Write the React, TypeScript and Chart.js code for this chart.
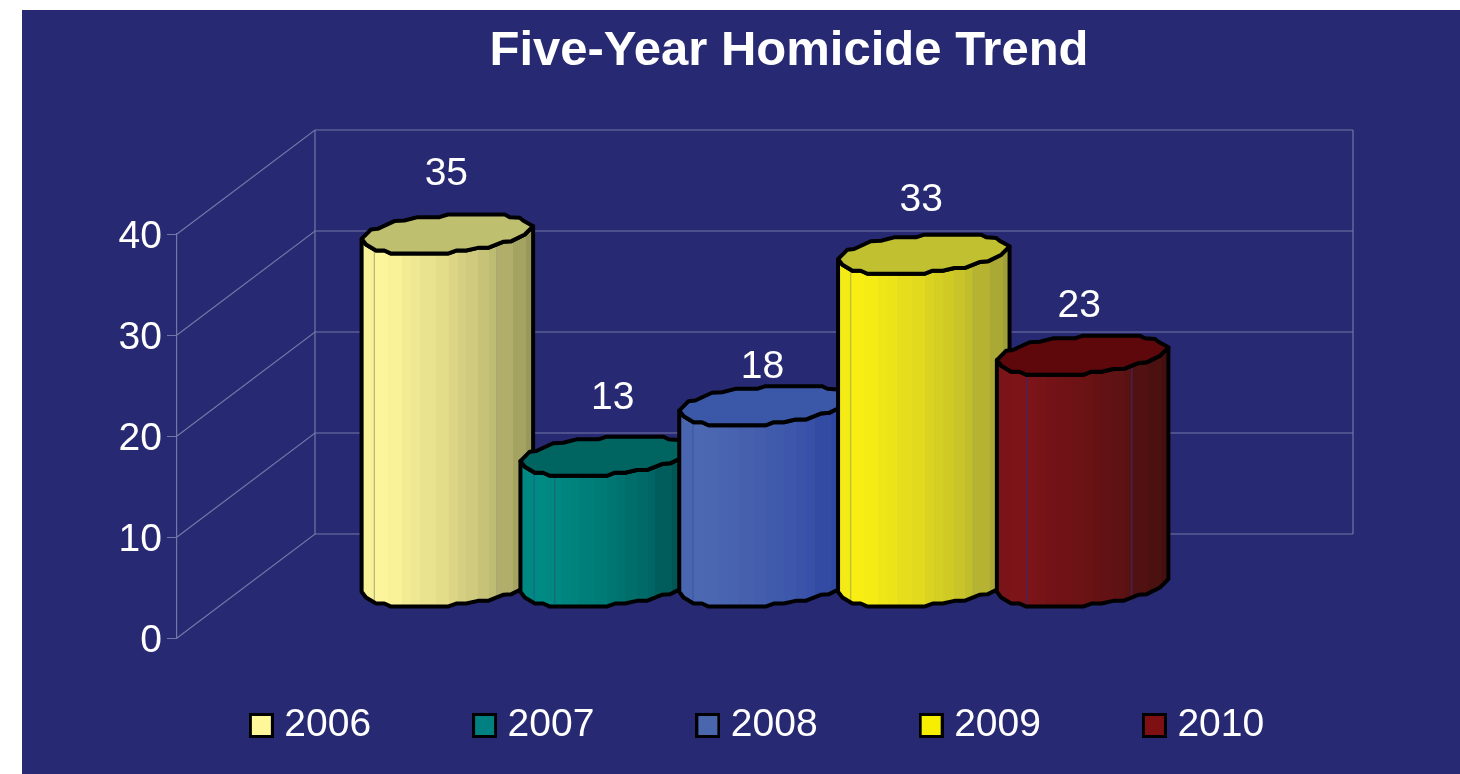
import React, { useEffect, useRef } from "react";
import { Chart, registerables } from "chart.js";

Chart.register(...registerables);

const categories = ["Homicides"];
const years = ["2006", "2007", "2008", "2009", "2010"];
const homicides = [35, 13, 18, 33, 23];
const yTicks = [0, 10, 20, 30, 40];

const swatchColors = ["#FFF799", "#008080", "#4A66AC", "#F8EE00", "#7E1014"];
const bodyLight = ["#FDF59B", "#008A84", "#4C68B2", "#F8EE14", "#7C1418"];
const bodyDark = ["#98985A", "#004F50", "#2C42A0", "#A0A03A", "#44100F"];
const capColors = ["#BFBF70", "#006460", "#3A57A8", "#C0C030", "#5E080C"];
const seamColors = ["#A8A678", "#1F5F80", "#3A55A0", "#B0B040", "#3A2A70"];
const seamStops = [
  [0.074, 0.787],
  [0.08, 0.2],
  [0.08, 0.787],
  [0.074, 0.787],
  [0.175, 0.787],
];
const labelNudgeX = [-1, 6.5, -2.5, -2.5, -3.5];
const labelRise = [58, 56, 37, 52, 47];

const NAVY = "#272A72";
const GRID = "#7476A8";
const FONT = '"Liberation Sans", Arial, sans-serif';
const DEPTH_X = 138;
const DEPTH_Y = -104;

// Facets of the cylinder: [position across the width, shade 0 = lit .. 1 = dark]
const facets: [number, number][] = [
  [0, 0.04], [0.074, 0], [0.152, 0.03], [0.234, 0.1], [0.288, 0.14], [0.343, 0.2],
  [0.433, 0.26], [0.507, 0.34], [0.561, 0.4], [0.61, 0.46], [0.678, 0.54],
  [0.741, 0.62], [0.787, 0.76], [0.883, 0.88], [0.961, 1],
];

// Outline of the faceted lid, in units of the cylinder radius, around its centre
const lidUpper: [number, number][] = [
  [-1, 0.074], [-0.891, -0.035], [-0.813, -0.043], [-0.618, -0.133], [-0.501, -0.14],
  [-0.345, -0.179], [-0.092, -0.179], [0.006, -0.21], [0.669, -0.21], [0.727, -0.179],
  [0.844, -0.172], [0.883, -0.14], [1, -0.074],
];
const lidLower: [number, number][] = [
  [1, -0.074], [0.903, 0.023], [0.747, 0.101], [0.649, 0.109], [0.474, 0.179],
  [0.357, 0.179], [0.22, 0.21], [0.103, 0.21], [0.006, 0.246], [-0.657, 0.246],
  [-0.735, 0.21], [-0.832, 0.21], [-0.949, 0.14], [-1, 0.074],
];

function hexToRgb(h: string) {
  return [1, 3, 5].map((i) => parseInt(h.slice(i, i + 2), 16));
}
function mix(a: string, b: string, t: number) {
  const A = hexToRgb(a);
  const B = hexToRgb(b);
  return `rgb(${A.map((v, i) => Math.round(v + (B[i] - v) * t)).join(",")})`;
}

function makeSwatch(color: string) {
  const c = document.createElement("canvas");
  c.width = 25;
  c.height = 25;
  const g = c.getContext("2d")!;
  g.fillStyle = "#000";
  g.fillRect(0, 0, 25, 25);
  g.fillStyle = color;
  g.fillRect(3, 3, 19, 19);
  return c;
}

const scene = {
  id: "scene",
  beforeDraw(chart: any) {
    const { ctx, width, height } = chart;
    ctx.save();
    ctx.fillStyle = "#FFFFFF";
    ctx.fillRect(0, 0, width, height);
    ctx.fillStyle = NAVY;
    ctx.fillRect(22, 10, width - 22, height - 10);
    ctx.restore();
  },
  afterLayout(chart: any) {
    const t = chart.titleBlock;
    t.left += 159;
    t.right += 159;
    const l = chart.legend;
    l.left += 131;
    l.right += 131;
    l.top -= 42;
  },
  beforeDatasetsDraw(chart: any) {
    const { ctx, chartArea } = chart;
    const y = chart.scales.y;
    const backL = chartArea.left + DEPTH_X;
    const backR = chartArea.right + DEPTH_X;
    ctx.save();
    ctx.strokeStyle = GRID;
    ctx.lineWidth = 1.2;
    yTicks.forEach((v) => {
      const py = y.getPixelForValue(v);
      ctx.beginPath();
      ctx.moveTo(chartArea.left, py);
      ctx.lineTo(backL, py + DEPTH_Y);
      ctx.lineTo(backR, py + DEPTH_Y);
      ctx.stroke();
    });
    ctx.beginPath();
    ctx.moveTo(backL, y.getPixelForValue(0) + DEPTH_Y);
    ctx.lineTo(backL, y.getPixelForValue(40) + DEPTH_Y);
    ctx.moveTo(backR, y.getPixelForValue(0) + DEPTH_Y);
    ctx.lineTo(backR, y.getPixelForValue(40) + DEPTH_Y);
    ctx.stroke();
    ctx.restore();
  },
  beforeDatasetDraw() {
    return false;
  },
  afterDatasetsDraw(chart: any) {
    const { ctx } = chart;
    chart.data.datasets.forEach((_: any, i: number) => {
      const bar = chart.getDatasetMeta(i).data[0];
      const cx = bar.x + DEPTH_X / 2;
      const top = bar.y + DEPTH_Y / 2;
      const bottom = bar.base + DEPTH_Y / 2;
      const r = bar.width * 0.54;
      const X = (u: number) => cx + u * r;
      const Y = (c: number, v: number) => c + v * r;

      const body = new Path2D();
      lidLower.slice().reverse().forEach(([u, v], k) => {
        if (k === 0) body.moveTo(X(u), Y(top, v));
        else body.lineTo(X(u), Y(top, v));
      });
      lidLower.forEach(([u, v]) => body.lineTo(X(u), Y(bottom, v)));
      body.closePath();

      const grad = ctx.createLinearGradient(cx - r, 0, cx + r, 0);
      facets.forEach(([p, shade], k) => {
        const color = mix(bodyLight[i], bodyDark[i], shade);
        grad.addColorStop(p, color);
        const next = k + 1 < facets.length ? facets[k + 1][0] : 1;
        grad.addColorStop(next, color);
      });

      ctx.save();
      ctx.fillStyle = grad;
      ctx.fill(body);

      ctx.save();
      ctx.clip(body);
      ctx.strokeStyle = seamColors[i];
      ctx.lineWidth = 1;
      seamStops[i].forEach((p) => {
        const sx = cx - r + 2 * r * p;
        ctx.beginPath();
        ctx.moveTo(sx, top);
        ctx.lineTo(sx, bottom + r);
        ctx.stroke();
      });
      ctx.restore();

      ctx.strokeStyle = "#000";
      ctx.lineWidth = 4;
      ctx.lineJoin = "round";
      ctx.stroke(body);

      const lid = new Path2D();
      lidUpper.forEach(([u, v], k) => {
        if (k === 0) lid.moveTo(X(u), Y(top, v));
        else lid.lineTo(X(u), Y(top, v));
      });
      lidLower.forEach(([u, v]) => lid.lineTo(X(u), Y(top, v)));
      lid.closePath();
      ctx.fillStyle = capColors[i];
      ctx.fill(lid);
      ctx.stroke(lid);
      ctx.restore();
    });

    ctx.save();
    ctx.fillStyle = "#FFFFFF";
    ctx.font = `39px ${FONT}`;
    ctx.textAlign = "center";
    ctx.textBaseline = "middle";
    chart.data.datasets.forEach((d: any, i: number) => {
      const bar = chart.getDatasetMeta(i).data[0];
      ctx.fillText(
        String(d.data[0]),
        bar.x + DEPTH_X / 2 + labelNudgeX[i],
        bar.y + DEPTH_Y / 2 - labelRise[i]
      );
    });
    ctx.restore();
  },
};

export default function App() {
  const ref = useRef<HTMLCanvasElement>(null);
  useEffect(() => {
    const swatches = swatchColors.map(makeSwatch);
    const chart = new Chart(ref.current!, {
      type: "bar",
      data: {
        labels: categories,
        datasets: years.map((year, i) => ({
          label: year,
          data: [homicides[i]],
          backgroundColor: swatchColors[i],
          borderColor: "#000",
          categoryPercentage: 0.765,
          barPercentage: 1,
        })),
      },
      options: {
        animation: false,
        responsive: false,
        devicePixelRatio: 1,
        layout: { padding: { left: 0, right: 200, top: 0, bottom: 0 } },
        plugins: {
          tooltip: { enabled: false },
          title: {
            display: true,
            text: "Five-Year Homicide Trend",
            color: "#FFFFFF",
            font: { family: FONT, size: 49, weight: "bold", lineHeight: 1.2 },
            padding: { top: 22, bottom: 153.2 },
          },
          legend: {
            display: true,
            position: "bottom",
            maxHeight: 136,
            labels: {
              color: "#FFFFFF",
              font: { family: FONT, size: 39 },
              usePointStyle: true,
              pointStyleWidth: 7,
              boxHeight: 25,
              padding: 110,
              generateLabels: (c: any) =>
                c.data.datasets.map((d: any, i: number) => ({
                  text: d.label,
                  fontColor: "#FFFFFF",
                  pointStyle: swatches[i],
                  datasetIndex: i,
                  hidden: false,
                  lineWidth: 0,
                })),
            },
          },
        },
        scales: {
          x: { display: false },
          y: {
            min: 0,
            max: 40,
            afterFit: (s: any) => {
              s.width = 177;
            },
            ticks: {
              stepSize: 10,
              color: "#FFFFFF",
              padding: 5,
              labelOffset: 3,
              font: { family: FONT, size: 39 },
            },
            border: { display: true, color: GRID, width: 1.2 },
            grid: { drawOnChartArea: false, drawTicks: true, tickLength: 10, tickColor: GRID },
          },
          spare: {
            position: "right",
            display: true,
            grid: { display: false },
            border: { display: false },
            ticks: { display: false },
            afterFit: (s: any) => {
              s.width = 45;
            },
          },
        },
      },
      plugins: [scene],
    } as any);
    return () => chart.destroy();
  }, []);
  return (
    <div style={{ position: "fixed", left: 0, top: 0, width: 1460, height: 774 }}>
      <canvas ref={ref} width={1460} height={774} style={{ display: "block" }} />
    </div>
  );
}
